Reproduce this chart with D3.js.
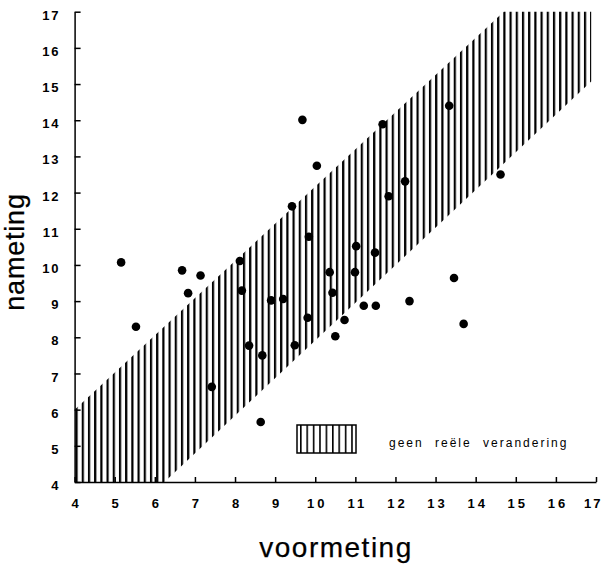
<!DOCTYPE html>
<html>
<head>
<meta charset="utf-8">
<script src="https://cdn.jsdelivr.net/npm/d3@7"></script>
<style>
    body { margin: 0; background: #fff; }
    svg { display: block; font-family: "Liberation Sans", Arial, sans-serif; }
    .tick text { font-weight: bold; font-size: 13px; fill: #000; }
    .axis path, .tick line { stroke: #000; stroke-width: 1.5; }
</style>
</head>
<body>
<svg width="602" height="564"></svg>
<script>
// voormeting (x) / nameting (y) per respondent
const voormeting = [
    5.16, 5.53, 6.68, 6.83, 7.14, 7.42, 8.12, 8.17, 8.35, 8.64, 8.68, 8.90,
    9.20, 9.49, 9.42, 9.68, 9.81, 9.84, 10.04, 10.36, 10.43, 10.50, 10.73, 11.02,
    10.99, 11.21, 11.51, 11.49, 11.68, 11.83, 12.24, 12.35, 13.34, 13.46, 13.70, 14.62
]
const nameting = [
    10.07, 8.29, 9.85, 9.22, 9.71, 6.63, 10.11, 9.29, 7.77, 5.66, 7.50, 9.02,
    9.06, 7.78, 11.62, 14.01, 8.54, 10.78, 12.74, 9.80, 9.23, 8.03, 8.48, 10.52,
    9.80, 8.87, 8.87, 10.34, 13.89, 11.90, 12.31, 9.00, 14.40, 9.64, 8.37, 12.50
]
// "geen reele verandering" band, corners in data units
const bandCorners = [
    [4, 4], [4, 6.0], [14.7, 17], [16.88, 17], [16.88, 15.07], [6.24, 4]
]
const ticks = d3.range(4, 18)
const legendLabel = "geen reële verandering"

const svg = d3.select("svg")
const x = d3.scaleLinear().domain([4, 17]).range([74.6, 596])
const y = d3.scaleLinear().domain([4, 17]).range([482, 11.7])

// vertical hatching
const defs = svg.append("defs")
defs.append("pattern")
    .attr("id", "hatch")
    .attr("patternUnits", "userSpaceOnUse")
    .attr("x", 75.5)
    .attr("width", 6.2)
    .attr("height", 10)
    .append("rect")
    .attr("width", 2.2)
    .attr("height", 10)
    .attr("fill", "#000")

defs.append("pattern")
    .attr("id", "hatch-legend")
    .attr("patternUnits", "userSpaceOnUse")
    .attr("x", 300)
    .attr("width", 6.4)
    .attr("height", 10)
    .append("rect")
    .attr("width", 1.6)
    .attr("height", 10)
    .attr("fill", "#000")

svg.append("path")
    .datum(bandCorners)
    .attr("d", d3.line().x(d => x(d[0])).y(d => y(d[1])))
    .attr("fill", "url(#hatch)")

// axes
const yAxis = svg.append("g")
    .attr("class", "axis")
    .attr("transform", `translate(${x(4)},0)`)
    .call(d3.axisLeft(y).tickValues(ticks).tickSize(-6).tickSizeOuter(0).tickPadding(14))
yAxis.selectAll(".tick text")
    .attr("dy", "0.58em")
    .attr("letter-spacing", 2)

const xAxis = svg.append("g")
    .attr("class", "axis")
    .attr("transform", `translate(0,${y(4)})`)
    .call(d3.axisBottom(x).tickValues(ticks).tickSize(-5).tickSizeOuter(0).tickPadding(17))
xAxis.selectAll(".tick text")
    .attr("letter-spacing", 3)
    .attr("dx", 1.5)
// last label sits right at the edge, as in the scan
xAxis.selectAll(".tick text").filter(d => d === 17)
    .attr("text-anchor", "end")
    .attr("letter-spacing", 2)
    .attr("dx", 6)

// points
svg.append("g")
    .selectAll("circle")
    .data(voormeting)
    .join("circle")
    .attr("cx", d => x(d))
    .attr("cy", (d, i) => y(nameting[i]))
    .attr("r", 4.3)
    .attr("fill", "#000")

// legend
svg.append("rect")
    .attr("x", 297)
    .attr("y", 425)
    .attr("width", 59)
    .attr("height", 28)
    .attr("fill", "url(#hatch-legend)")
    .attr("stroke", "#000")
    .attr("stroke-width", 1.5)

svg.append("text")
    .attr("x", 389)
    .attr("y", 447)
    .attr("font-size", 12)
    .attr("letter-spacing", 2)
    .attr("word-spacing", 6)
    .text(legendLabel)

// axis titles
svg.append("text")
    .attr("transform", "translate(24,252) rotate(-90)")
    .attr("text-anchor", "middle")
    .attr("font-size", 27)
    .attr("stroke", "#000")
    .attr("stroke-width", 0.25)
    .attr("letter-spacing", 0.8)
    .text("nameting")

svg.append("text")
    .attr("x", 336)
    .attr("y", 557)
    .attr("text-anchor", "middle")
    .attr("font-size", 28)
    .attr("stroke", "#000")
    .attr("stroke-width", 0.25)
    .attr("letter-spacing", 1.5)
    .text("voormeting")
</script>
</body>
</html>
